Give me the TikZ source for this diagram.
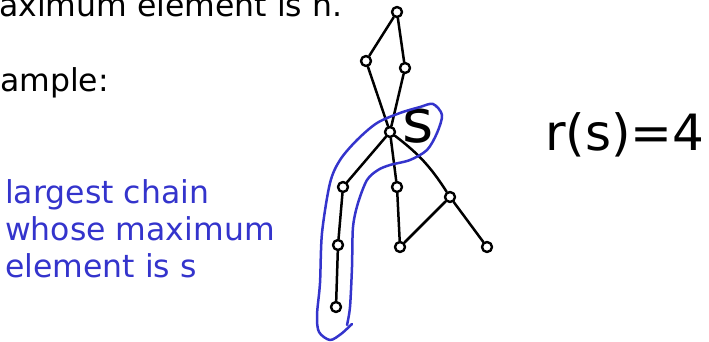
\documentclass[tikz,border=0pt]{standalone}
\usepackage{fontspec}
\setmainfont{DejaVu Sans}
\definecolor{penblue}{RGB}{52,52,204}
\tikzset{
  vert/.style={circle,draw,line width=2.4pt,inner sep=0pt,minimum size=10pt},
  edge/.style={line width=2.5pt},
  txt/.style={anchor=base west,inner sep=0pt,font=\fontsize{31.5}{37}\selectfont},
  hand/.style={inner sep=0pt,font=\fontsize{50}{50}\selectfont},
}
\begin{document}
\begin{tikzpicture}[x=1pt,y=-1pt,line cap=round,line join=round]
  \clip (0,0) rectangle (709,342);
  \node[txt] (head) at (-1,17) {aximum element is n.};
  \node[txt] (ex) at (0,92) {ample:};
  \node[txt,text=penblue] (note1) at (5,203) {largest chain};
  \node[txt,text=penblue] (note2) at (5,240) {whose maximum};
  \node[txt,text=penblue] (note3) at (5,277) {element is s};
  \node[vert] (nTop) at (397,12) {};
  \node[vert] (nUpL) at (366,61) {};
  \node[vert] (nUpR) at (405,68) {};
  \node[vert] (nS) at (390,132) {};
  \node[vert] (nL1) at (343,187) {};
  \node[vert] (nMid) at (397,187) {};
  \node[vert] (nR) at (450,197) {};
  \node[vert] (nL2) at (338,245) {};
  \node[vert] (nBot) at (400,247) {};
  \node[vert] (nFar) at (487,247) {};
  \node[vert] (nL3) at (336,307) {};
  \draw[edge] (nTop) -- (nUpL);
  \draw[edge] (nTop) -- (nUpR);
  \draw[edge] (nUpL) -- (nS);
  \draw[edge] (nUpR) -- (nS);
  \draw[edge] (nS) -- (nL1);
  \draw[edge] (nS) -- (nMid);
  \draw[edge] (nS) to[bend left=10] (nR);
  \draw[edge] (nL1) -- (nL2);
  \draw[edge] (nL2) -- (nL3);
  \draw[edge] (nMid) -- (nBot);
  \draw[edge] (nR) -- (nBot);
  \draw[edge] (nR) -- (nFar);
  \node[hand,font=\fontsize{60}{60}\selectfont] (lblS) at (418,126) {s};
  \node[hand] (rank) at (625,135) {r(s)=4};
  \draw[penblue,line width=2.5pt] plot[smooth] coordinates {(352,324) (341,334) (330,340)
    (319,332) (317,315) (320,283) (322,233) (330,183) (340,160) (357,140) (377,123)
    (400,113) (420,107) (433,104) (442,115) (437,133) (427,150) (410,160) (390,165)
    (378,170) (367,180) (358,203) (353,227) (352,267) (350,307) (347,325)};
\end{tikzpicture}
\end{document}
